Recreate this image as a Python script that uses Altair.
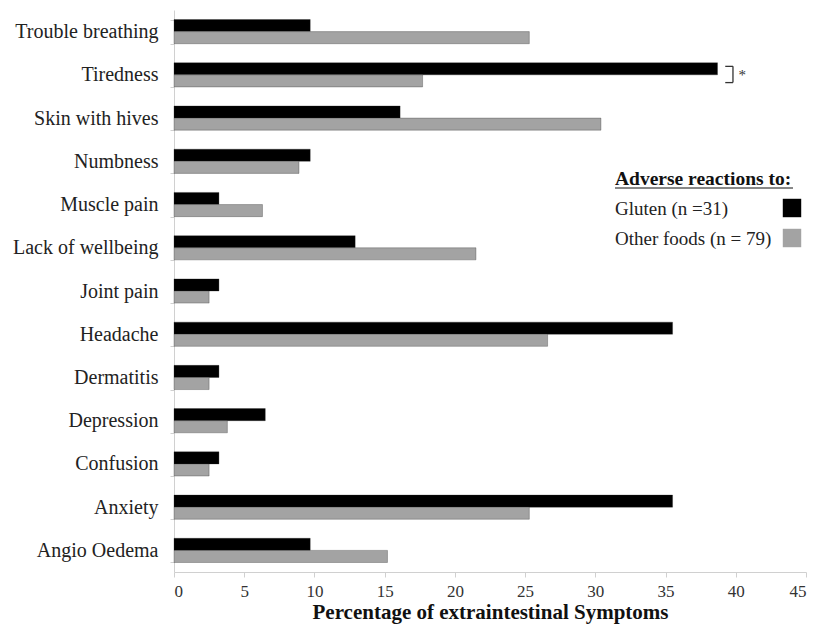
import altair as alt
import pandas as pd

categories = ["Trouble breathing", "Tiredness", "Skin with hives", "Numbness", "Muscle pain",
              "Lack of wellbeing", "Joint pain", "Headache", "Dermatitis", "Depression",
              "Confusion", "Anxiety", "Angio Oedema"]
gluten = [9.7, 38.7, 16.1, 9.7, 3.2, 12.9, 3.2, 35.5, 3.2, 6.5, 3.2, 35.5, 9.7]
other = [25.3, 17.7, 30.4, 8.9, 6.3, 21.5, 2.5, 26.6, 2.5, 3.8, 2.5, 25.3, 15.2]
series = ["Gluten (n =31)", "Other foods (n = 79)"]
colors = ["#000000", "#a3a3a3"]

rows = []
for c, g, o in zip(categories, gluten, other):
    rows.append({"symptom": c, "group": series[0], "pct": g, "order": 0})
    rows.append({"symptom": c, "group": series[1], "pct": o, "order": 1})
df = pd.DataFrame(rows)

FONT = "Liberation Serif"

yscale = alt.Scale(domain=categories, paddingInner=0.44, paddingOuter=0.22)
xscale = alt.Scale(domain=[0, 45])

bars = alt.Chart(df).mark_bar(stroke="#222222", strokeWidth=0.3).encode(
    x=alt.X("pct:Q", scale=xscale,
            axis=alt.Axis(title="Percentage of extraintestinal Symptoms", values=list(range(0, 50, 5)),
                          grid=False, tickSize=5, domainColor="#d0d0d0", tickColor="#d0d0d0",
                          labelFont=FONT, labelFontSize=17, labelColor="#333333", labelPadding=6,
                          titleFont=FONT, titleFontSize=21, titleFontWeight="bold", titleColor="#111111",
                          titlePadding=2)),
    y=alt.Y("symptom:N", scale=yscale, sort=categories,
            axis=alt.Axis(title=None, tickBand="extent", tickSize=4, domainColor="#d0d0d0",
                          tickColor="#d0d0d0", labelFont=FONT, labelFontSize=20,
                          labelColor="#222222", labelPadding=12)),
    yOffset=alt.YOffset("order:O", scale=alt.Scale(paddingInner=0, paddingOuter=0)),
    color=alt.Color("group:N", scale=alt.Scale(domain=series, range=colors), legend=None),
)

# significance bracket for Tiredness
br = pd.DataFrame({"symptom": ["Tiredness"], "x1": [39.25], "x2": [39.8], "star": [40.2]})
bkt_v = alt.Chart(br).mark_rule(color="#333333", strokeWidth=1.3).encode(
    x=alt.X("x2:Q", scale=xscale),
    y=alt.Y("symptom:N", scale=yscale, sort=categories, bandPosition=0.15),
    y2=alt.Y2("symptom", bandPosition=0.82),
)
bkt_top = alt.Chart(br).mark_rule(color="#333333", strokeWidth=1.3).encode(
    x=alt.X("x1:Q", scale=xscale), x2="x2:Q",
    y=alt.Y("symptom:N", scale=yscale, sort=categories, bandPosition=0.15),
)
bkt_bot = alt.Chart(br).mark_rule(color="#333333", strokeWidth=1.3).encode(
    x=alt.X("x1:Q", scale=xscale), x2="x2:Q",
    y=alt.Y("symptom:N", scale=yscale, sort=categories, bandPosition=0.82),
)
star = alt.Chart(br).mark_text(text="*", font=FONT, fontSize=15, align="left", baseline="middle",
                               color="#333333").encode(
    x=alt.X("star:Q", scale=xscale),
    y=alt.Y("symptom:N", scale=yscale, sort=categories, bandPosition=0.5),
)

# custom legend
legend_title = alt.Chart(pd.DataFrame({"t": ["Adverse reactions to:"]})).mark_text(
    font=FONT, fontSize=19.5, fontWeight="bold", align="left", baseline="alphabetic", color="#111111"
).encode(text="t:N", x=alt.value(441), y=alt.value(175))
legend_underline = alt.Chart(pd.DataFrame({"a": [0]})).mark_rule(color="#111111", strokeWidth=1).encode(
    x=alt.value(441), x2=alt.value(619), y=alt.value(178))
leg_df = pd.DataFrame({"label": series, "ypos": [205, 235], "sy": [198, 228]})
legend_labels = alt.Chart(leg_df).mark_text(
    font=FONT, fontSize=19, align="left", baseline="alphabetic", color="#222222"
).encode(text="label:N", x=alt.value(441), y=alt.Y("ypos:Q", scale=None))
legend_swatch = alt.Chart(leg_df).mark_square(size=340, opacity=1).encode(
    x=alt.value(618), y=alt.Y("sy:Q", scale=None),
    color=alt.Color("label:N", scale=alt.Scale(domain=series, range=colors), legend=None),
)

chart = alt.layer(bars, bkt_v, bkt_top, bkt_bot, star,
                  legend_title, legend_underline, legend_labels, legend_swatch).properties(
    width=632, height=562,
    autosize=alt.AutoSizeParams(type="none"),
    padding={"left": 166, "top": 2, "right": 4, "bottom": 56},
).configure(background="white").configure_view(stroke=None)

chart.save("out.html", embed_options={"renderer": "svg", "actions": False})
